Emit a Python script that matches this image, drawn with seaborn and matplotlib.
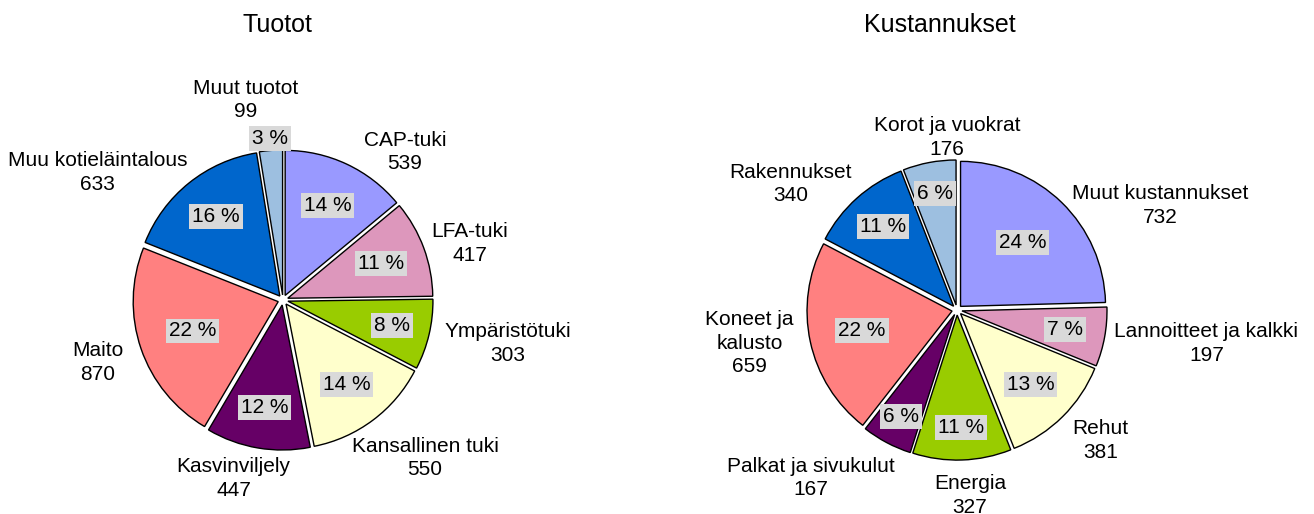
#!/usr/bin/env python3
# coding: utf-8

import numpy as np
import seaborn as sns
import matplotlib.pyplot as plt


# data
income_names = ['CAP-tuki', 'LFA-tuki', 'Ympäristötuki', 'Kansallinen tuki',
                'Kasvinviljely', 'Maito', 'Muu kotieläintalous', 'Muut tuotot']
income_values = [539, 417, 303, 550, 447, 870, 633, 99]
income_pct = ['14 %', '11 %', '8 %', '14 %', '12 %', '22 %', '16 %', '3 %']

cost_names = ['Muut kustannukset', 'Lannoitteet ja kalkki', 'Rehut', 'Energia',
              'Palkat ja sivukulut', 'Koneet ja\nkalusto', 'Rakennukset', 'Korot ja vuokrat']
cost_values = [732, 197, 381, 327, 167, 659, 340, 176]
cost_pct = ['24 %', '7 %', '13 %', '11 %', '6 %', '22 %', '11 %', '6 %']

income_colors = ['#9999FF', '#DD97BC', '#99CC00', '#FFFFCC', '#660066', '#FF8080', '#0066CC', '#9DBFE0']
cost_colors = ['#9999FF', '#DD97BC', '#FFFFCC', '#99CC00', '#660066', '#FF8080', '#0066CC', '#9DBFE0']

# layout: label block centres (radius units) and percent label distances
income_label_pos = [(0.84, 1.02), (1.29, 0.39), (1.55, -0.30), (0.98, -1.09),
                    (-0.34, -1.23), (-1.28, -0.43), (-1.28, 0.88), (-0.26, 1.38)]
income_pct_dist = [0.72, 0.72, 0.77, 0.73, 0.75, 0.66, 0.74, 1.12]
cost_label_pos = [(1.40, 0.72), (1.72, -0.23), (0.99, -0.90), (0.09, -1.28),
                  (-1.01, -1.16), (-1.43, -0.23), (-1.15, 0.87), (-0.07, 1.19)]
cost_pct_dist = [0.65, 0.76, 0.72, 0.81, 0.83, 0.67, 0.77, 0.82]


sns.set_theme(style='white')
plt.rcParams['font.family'] = ['Liberation Sans', 'DejaVu Sans']
plt.rcParams['text.color'] = 'black'

W, H = 1314, 514
fig = plt.figure(figsize=(W / 100, H / 100), dpi=100)
R = 145   # pie radius in pixels
LIM = 1.4


def draw_pie(cx, cy, values, names, pcts, colors, label_pos, pct_dist):
    size = 2 * LIM * R
    ax = fig.add_axes([(cx - size / 2) / W, (H - cy - size / 2) / H, size / W, size / H])
    wedges, _ = ax.pie(values, colors=sns.color_palette(colors), startangle=90,
                       counterclock=False, explode=[0.035] * len(values),
                       wedgeprops=dict(edgecolor='black', linewidth=1.0))
    for w, name, val, pos, pct, d in zip(wedges, names, values, label_pos, pcts, pct_dist):
        mid = np.deg2rad((w.theta1 + w.theta2) / 2)
        ax.text(d * np.cos(mid), d * np.sin(mid), pct, ha='center', va='center',
                fontsize=15, color='black',
                bbox=dict(boxstyle='square,pad=0.14', fc='#D9D9D9', ec='none'))
        ax.text(pos[0], pos[1], f'{name}\n{val}', ha='center', va='center',
                fontsize=15, linespacing=1.3, color='black')
    ax.set_xlim(-LIM, LIM)
    ax.set_ylim(-LIM, LIM)
    ax.axis('off')
    return ax


draw_pie(283, 300, income_values, income_names, income_pct, income_colors,
         income_label_pos, income_pct_dist)
draw_pie(957, 310, cost_values, cost_names, cost_pct, cost_colors,
         cost_label_pos, cost_pct_dist)

fig.text(277 / W, 1 - 25 / H, 'Tuotot', ha='center', va='center', fontsize=18, color='black')
fig.text(940 / W, 1 - 25 / H, 'Kustannukset', ha='center', va='center', fontsize=18, color='black')

plt.savefig('out.png', dpi=100)
